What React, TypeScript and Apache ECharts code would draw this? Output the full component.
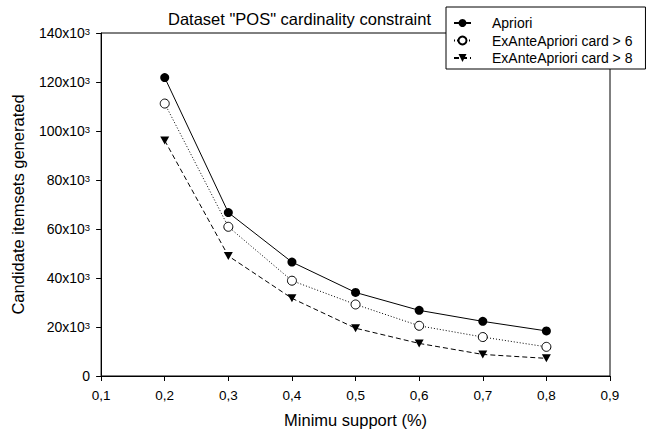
import React, { useEffect, useRef } from "react";
import * as echarts from "echarts";

const supports = [0.2, 0.3, 0.4, 0.5, 0.6, 0.7, 0.8];
const apriori = [121800, 66700, 46500, 34100, 26800, 22300, 18400];
const exAnte6 = [111200, 60900, 38900, 29200, 20500, 15900, 11900];
const exAnte8 = [96100, 49000, 31700, 19500, 13300, 8800, 7200];
const seriesNames = ["Apriori", "ExAnteApriori card > 6", "ExAnteApriori card > 8"];
const titleText = 'Dataset "POS" cardinality constraint';
const xName = "Minimu support (%)";
const yName = "Candidate itemsets generated";

const FONT = "'Liberation Sans', Arial, sans-serif";

export default function App() {
  const ref = useRef<HTMLDivElement>(null);
  useEffect(() => {
    if (!ref.current) return;
    const chart = echarts.init(ref.current, undefined, { renderer: "svg" });
    const pts = (ys: number[]) => supports.map((x, i) => [x, ys[i]]);
    chart.setOption({
      animation: false,
      backgroundColor: "#fff",
      textStyle: { fontFamily: FONT, color: "#000" },
      title: {
        text: titleText,
        left: 168,
        top: 9,
        padding: 0,
        textStyle: { fontFamily: FONT, fontSize: 16.5, fontWeight: "normal", color: "#000", lineHeight: 20 },
      },
      legend: {
        orient: "vertical",
        left: 446,
        top: 7,
        padding: [9, 13, 4, 7],
        itemWidth: 17,
        itemHeight: 10,
        itemGap: 3.5,
        backgroundColor: "#fff",
        borderColor: "#000",
        borderWidth: 1,
        borderRadius: 0,
        z: 10,
        textStyle: { fontFamily: FONT, fontSize: 14, color: "#000", lineHeight: 14, padding: [0, 0, 0, 16] },
        data: seriesNames,
      },
      grid: {
        left: 101,
        top: 33,
        right: 36,
        bottom: 55,
        show: true,
        borderColor: "#000",
        borderWidth: 1,
        backgroundColor: "transparent",
      },
      xAxis: {
        type: "value",
        min: 0.1,
        max: 0.9,
        interval: 0.1,
        name: xName,
        nameLocation: "middle",
        nameGap: 34,
        nameTextStyle: { fontFamily: FONT, fontSize: 16.5, color: "#000", lineHeight: 20 },
        axisLine: { show: true, onZero: false, lineStyle: { color: "#000", width: 1 } },
        axisTick: { show: true, length: 5, inside: false, lineStyle: { color: "#000" } },
        splitLine: { show: false },
        axisLabel: {
          margin: 12,
          fontFamily: FONT,
          fontSize: 13.5,
          color: "#000",
          formatter: (v: number) => v.toFixed(1).replace(".", ","),
        },
      },
      yAxis: {
        type: "value",
        min: 0,
        max: 140000,
        interval: 20000,
        name: yName,
        nameLocation: "middle",
        nameGap: 68,
        nameTextStyle: { fontFamily: FONT, fontSize: 16.5, color: "#000", lineHeight: 20 },
        axisLine: { show: true, lineStyle: { color: "#000", width: 1 } },
        axisTick: { show: true, length: 5, inside: false, lineStyle: { color: "#000" } },
        splitLine: { show: false },
        axisLabel: {
          margin: 11,
          fontFamily: FONT,
          fontSize: 14,
          color: "#000",
          formatter: (v: number) => (v === 0 ? "0" : `${v / 1000}x10{sup|3}`),
          rich: {
            sup: { fontSize: 9.5, verticalAlign: "top", lineHeight: 9, padding: [0, 0, 5, 0], fontFamily: FONT, color: "#000" },
          },
        },
      },
      series: [
        {
          name: seriesNames[0],
          type: "line",
          data: pts(apriori),
          symbol: "circle",
          symbolSize: 9,
          itemStyle: { color: "#000" },
          lineStyle: { color: "#000", width: 1, type: "solid" },
        },
        {
          name: seriesNames[1],
          type: "line",
          data: pts(exAnte6),
          symbol: "circle",
          symbolSize: 9,
          itemStyle: { color: "#fff", borderColor: "#000", borderWidth: 1 },
          lineStyle: { color: "#000", width: 1, type: [1, 2] },
        },
        {
          name: seriesNames[2],
          type: "line",
          data: pts(exAnte8),
          symbol: "triangle",
          symbolRotate: 180,
          symbolSize: [9, 8],
          itemStyle: { color: "#000" },
          lineStyle: { color: "#000", width: 1, type: [5, 3] },
        },
      ],
    });
    return () => chart.dispose();
  }, []);
  return (
    <div
      ref={ref}
      style={{ position: "fixed", left: 0, top: 0, width: 646, height: 435, background: "#fff" }}
    />
  );
}
